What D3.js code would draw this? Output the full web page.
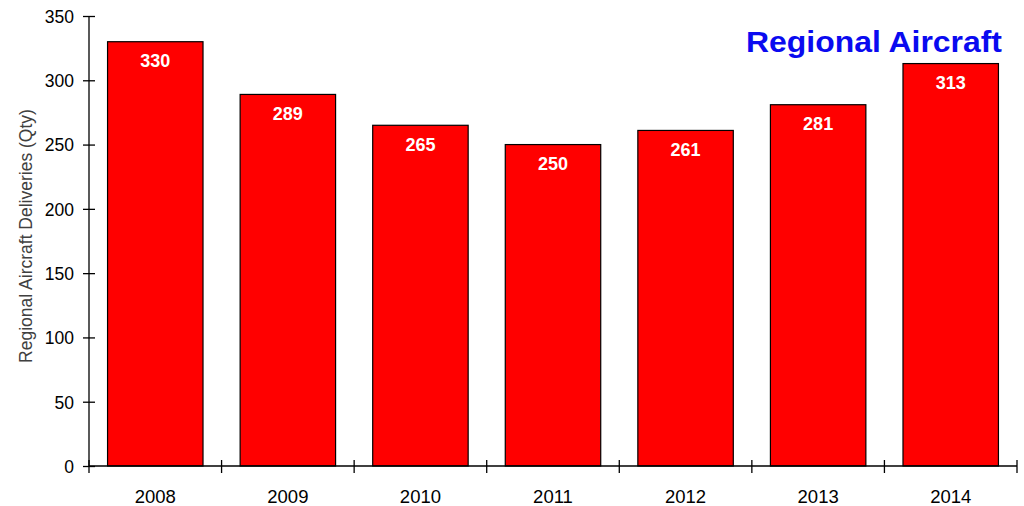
<!DOCTYPE html>
<html>
<head>
<meta charset="utf-8">
<script src="https://cdn.jsdelivr.net/npm/d3@7"></script>
<style>
  html, body { margin: 0; padding: 0; background: #fff; }
  svg { display: block; font-family: "Liberation Sans", Arial, sans-serif; }
</style>
</head>
<body>
<svg id="chart" width="1024" height="506"></svg>
<script>
// Regional aircraft deliveries per year
const years = ["2008", "2009", "2010", "2011", "2012", "2013", "2014"];
const deliveries = [330, 289, 265, 250, 261, 281, 313];
const yTicks = [0, 50, 100, 150, 200, 250, 300, 350];

const svg = d3.select("#chart");
const plotLeft = 89, plotRight = 1017, plotTop = 16, plotBottom = 466;

const x = d3.scaleBand().domain(years).range([plotLeft, plotRight]).paddingInner(0.28).paddingOuter(0.14);
const y = d3.scaleLinear().domain([0, 350]).range([plotBottom, plotTop]);

const rows = years.map((yr, i) => ({ yr, v: deliveries[i] }));

// Bars
svg.append("g").selectAll("rect")
  .data(rows)
  .join("rect")
  .attr("x", d => x(d.yr))
  .attr("y", d => y(d.v))
  .attr("width", x.bandwidth())
  .attr("height", d => y(0) - y(d.v))
  .attr("fill", "#ff0000")
  .attr("stroke", "#000")
  .attr("stroke-width", 1.2);

// Value labels inside bar tops
svg.append("g").selectAll("text")
  .data(rows)
  .join("text")
  .attr("x", d => x(d.yr) + x.bandwidth() / 2)
  .attr("y", d => y(d.v) + 25.5)
  .attr("text-anchor", "middle")
  .attr("fill", "#fff")
  .attr("font-weight", "bold")
  .attr("font-size", "18px")
  .text(d => d.v);

// Y axis
const yAxis = d3.axisLeft(y).tickValues(yTicks).tickSize(6).tickPadding(6);
const gy = svg.append("g").attr("transform", `translate(${plotLeft},0)`).call(yAxis);
gy.select(".domain").attr("stroke", "#000").attr("stroke-width", 1.3).attr("d", `M0,${plotTop}V${plotBottom}`);
gy.selectAll(".tick line").attr("x1", -6).attr("x2", 6).attr("stroke-width", 1.3);
gy.selectAll(".tick text").attr("font-size", "17.5px").attr("fill", "#000").attr("x", -15).attr("dy", "0.36em")
  .attr("font-family", "Liberation Sans, Arial, sans-serif");

// X axis: ticks sit at category boundaries
const gx = svg.append("g").attr("transform", `translate(0,${plotBottom})`);
gx.append("path").attr("d", `M${plotLeft},0H${plotRight}`).attr("stroke", "#000").attr("stroke-width", 1.3);
const boundaries = d3.range(years.length + 1).map(i => plotLeft + i * (plotRight - plotLeft) / years.length);
gx.selectAll("line.b").data(boundaries).join("line")
  .attr("class", "b")
  .attr("x1", d => d).attr("x2", d => d).attr("y1", -6).attr("y2", 7)
  .attr("stroke", "#000").attr("stroke-width", 1.3);
gx.selectAll("text").data(years).join("text")
  .attr("x", d => x(d) + x.bandwidth() / 2)
  .attr("y", 36.5)
  .attr("text-anchor", "middle")
  .attr("font-size", "18.5px")
  .attr("fill", "#000")
  .text(d => d);

// Y axis title
svg.append("text")
  .attr("transform", "translate(32,236) rotate(-90)")
  .attr("text-anchor", "middle")
  .attr("font-size", "17.5px")
  .attr("fill", "#404040")
  .text("Regional Aircraft Deliveries (Qty)");

// Chart title
svg.append("text")
  .attr("x", 746)
  .attr("y", 52)
  .attr("text-anchor", "start")
  .attr("font-size", "29px")
  .attr("font-weight", "bold")
  .attr("fill", "#0a0af0")
  .attr("textLength", 256)
  .attr("lengthAdjust", "spacingAndGlyphs")
  .text("Regional Aircraft");
</script>
</body>
</html>
